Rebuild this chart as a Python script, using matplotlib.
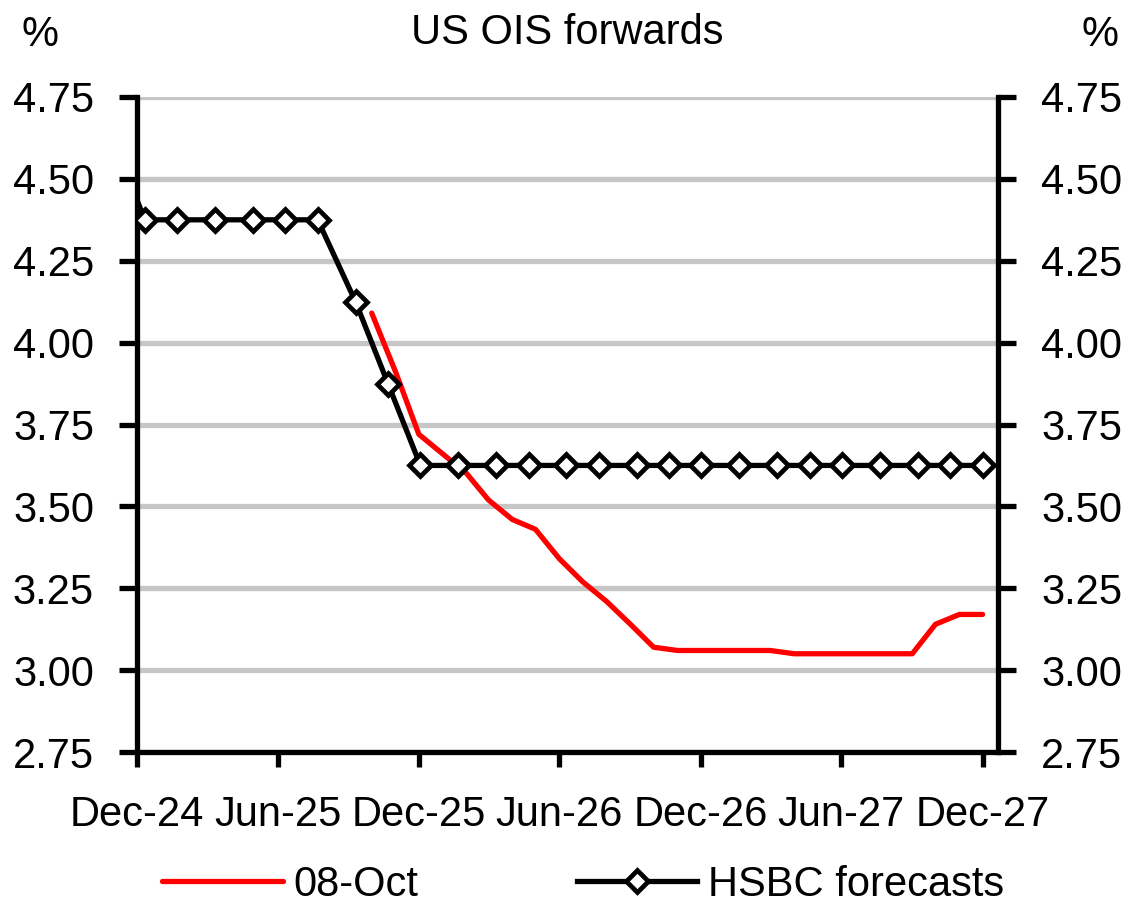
import matplotlib
matplotlib.use('Agg')

import matplotlib.pyplot as plt
import matplotlib.dates as mdates
import pandas as pd

plt.rcParams['font.family'] = ['Liberation Sans Narrow', 'Liberation Sans', 'DejaVu Sans']

# HSBC forecast path, one point per FOMC meeting (first one sits left of the axis)
hsbc_dates = pd.to_datetime([
    '2024-11-07', '2024-12-18', '2025-01-29', '2025-03-19', '2025-05-07',
    '2025-06-18', '2025-07-30', '2025-09-17', '2025-10-29', '2025-12-10',
    '2026-01-28', '2026-03-18', '2026-04-29', '2026-06-17', '2026-07-29',
    '2026-09-16', '2026-10-28', '2026-12-09', '2027-01-27', '2027-03-17',
    '2027-04-28', '2027-06-09', '2027-07-28', '2027-09-15', '2027-10-27',
    '2027-12-08',
])
hsbc_rate = [4.625, 4.375, 4.375, 4.375, 4.375, 4.375, 4.375, 4.125, 3.875, 3.625,
             3.625, 3.625, 3.625, 3.625, 3.625, 3.625, 3.625, 3.625, 3.625, 3.625,
             3.625, 3.625, 3.625, 3.625, 3.625, 3.625]

# OIS forward curve as of 08-Oct, monthly
ois_dates = pd.date_range('2025-10-01', periods=27, freq='MS') + pd.Timedelta(days=7)
ois_rate = [4.09, 3.91, 3.72,
            3.66, 3.60, 3.52, 3.46, 3.43, 3.34, 3.27, 3.21, 3.14, 3.07, 3.06, 3.06,
            3.06, 3.06, 3.06, 3.05, 3.05, 3.05, 3.05, 3.05, 3.05, 3.14, 3.17, 3.17]

tick_dates = pd.to_datetime(['2024-12-08', '2025-06-08', '2025-12-08', '2026-06-08',
                             '2026-12-08', '2027-06-08', '2027-12-08'])
y_ticks = [2.75, 3.00, 3.25, 3.50, 3.75, 4.00, 4.25, 4.50, 4.75]

fs = 30

fig = plt.figure(figsize=(11.3, 9.06), dpi=100)
ax = fig.add_axes([137/1130, 1 - 752/906, (998 - 137)/1130, (752 - 97)/906])

ax.plot(ois_dates, ois_rate, color='#ff0000', lw=3.8, solid_capstyle='round',
        label='08-Oct', zorder=3)
ax.plot(hsbc_dates, hsbc_rate, color='black', lw=3.8, marker='D', ms=11,
        mfc='white', mec='black', mew=3.4, label='HSBC forecasts', zorder=4)

ax.set_xlim(pd.Timestamp('2024-12-08'), pd.Timestamp('2027-12-28'))
ax.set_ylim(2.75, 4.75)
ax.set_xticks(tick_dates)
ax.xaxis.set_major_formatter(mdates.DateFormatter('%b-%y'))
ax.set_yticks(y_ticks)
ax.set_yticklabels([f'{v:.2f}' for v in y_ticks])

ax.yaxis.grid(True, color='#c6c6c6', lw=3.8)
ax.set_axisbelow(True)

ax.spines['top'].set_visible(False)
for side in ['left', 'right', 'bottom']:
    ax.spines[side].set_linewidth(3.8)
    ax.spines[side].set_color('black')

ax.tick_params(axis='x', direction='out', length=11, width=3.8, pad=20, labelsize=fs)
ax.tick_params(axis='y', direction='out', length=13, width=3.8, labelsize=fs, pad=18,
               left=True, right=True, labelleft=True, labelright=True)

fig.text(40/1130, 1 - 35/906, '%', fontsize=fs, ha='center', va='center')
fig.text(1100/1130, 1 - 35/906, '%', fontsize=fs, ha='center', va='center')
fig.text(567/1130, 1 - 33/906, 'US OIS forwards', fontsize=fs, ha='center', va='center')

fig.legend(loc='center', bbox_to_anchor=(583/1130, 1 - 885/906), ncol=2,
           frameon=False, fontsize=fs, handlelength=2.9, handletextpad=0.25,
           columnspacing=3.8, numpoints=1, borderaxespad=0)

fig.savefig('out.png', dpi=100)
plt.close(fig)
